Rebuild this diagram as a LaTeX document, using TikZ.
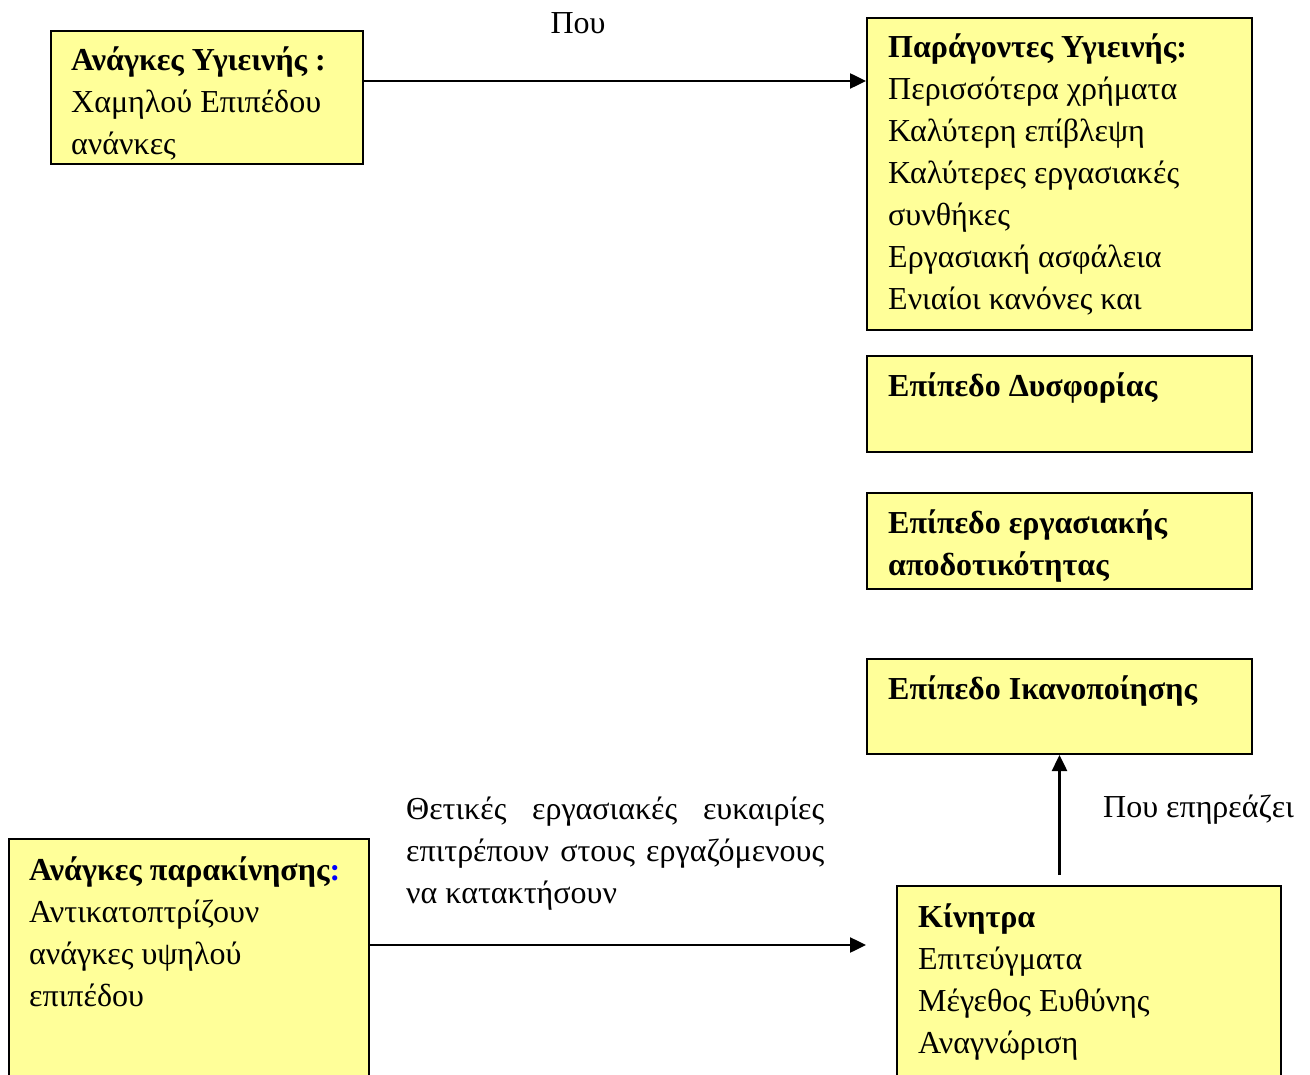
\documentclass[tikz,border=0pt]{standalone}
\usepackage{fontspec}
\setmainfont{Liberation Serif}
\usepackage{xcolor}
\usetikzlibrary{arrows.meta,positioning}
\definecolor{hfill}{HTML}{FFFF99}
\definecolor{hblue}{HTML}{0000FF}
\tikzset{
  box/.style={draw, line width=2pt, fill=hfill, anchor=north west, inner sep=0pt},
  boxtext/.style={anchor=north west, inner sep=0pt, align=left,
    font=\fontsize{32}{42}\selectfont},
  lbl/.style={inner sep=0pt, font=\fontsize{32}{42}\selectfont},
  conn/.style={line width=2.5pt, -{Triangle[length=16pt,width=15pt]}},
}

\begin{document}
\begin{tikzpicture}[x=1pt, y=-1pt]
\useasboundingbox (0,0) rectangle (1310,1075);
\clip (0,0) rectangle (1310,1075);
% ---- hygiene needs and factors ----
\node[box, minimum width=312pt, minimum height=133pt] (hyg) at (50,30) {};
\node[boxtext] (hygT) at ([shift={(21,10.6)}]hyg.north west)
   {\strut\textbf{Ανάγκες Υγιεινής :}\\Χαμηλού Επιπέδου\\ανάνκες};
\node[box, minimum width=385pt, minimum height=312pt] (fact) at (866,17) {};
\node[boxtext] (factT) at ([shift={(22,10.6)}]fact.north west)
   {\strut\textbf{Παράγοντες Υγιεινής:}\\Περισσότερα χρήματα\\Καλύτερη επίβλεψη\\
    Καλύτερες εργασιακές\\συνθήκες\\Εργασιακή ασφάλεια\\Ενιαίοι κανόνες και};
% ---- levels ----
\node[box, minimum width=385pt, minimum height=96pt] (dys) at (866,355) {};
\node[boxtext] (dysT) at ([shift={(22,11.6)}]dys.north west)
   {\strut\textbf{Επίπεδο Δυσφορίας}};
\node[box, minimum width=385pt, minimum height=96pt] (perf) at (866,492) {};
\node[boxtext] (perfT) at ([shift={(22,11.6)}]perf.north west)
   {\strut\textbf{Επίπεδο εργασιακής}\\\textbf{αποδοτικότητας}};
\node[box, minimum width=385pt, minimum height=95pt] (sat) at (866,658) {};
\node[boxtext] (satT) at ([shift={(22,11.6)}]sat.north west)
   {\strut\textbf{Επίπεδο Ικανοποίησης}};
% ---- motivation needs and incentives ----
\node[box, minimum width=360pt, minimum height=260pt] (mot) at (8,838) {};
\node[boxtext] (motT) at ([shift={(21,12.6)}]mot.north west)
   {\strut\textbf{Ανάγκες παρακίνησης\textcolor{hblue}{:}}\\Αντικατοπτρίζουν\\
    ανάγκες υψηλού\\επιπέδου};
\node[box, minimum width=384pt, minimum height=220pt] (kin) at (896,885) {};
\node[boxtext] (kinT) at ([shift={(22,12.6)}]kin.north west)
   {\strut\textbf{Κίνητρα}\\Επιτεύγματα\\Μέγεθος Ευθύνης\\Αναγνώριση};
% ---- connectors ----
\coordinate (a1) at ([yshift=-51pt]hyg.north east);
\draw[conn] (a1) -- (a1 -| fact.west);
\node[lbl, anchor=base] (pou) at (578,34) {Που};
\coordinate (a2) at ([yshift=-107pt]mot.north east);
\coordinate (a2end) at (866,945);
\draw[conn] (a2) -- (a2end);
\node[lbl, anchor=north west, text width=418pt, align=justify] (opp) at (406,789.4)
   {\strut Θετικές εργασιακές ευκαιρίες\linebreak επιτρέπουν στους εργαζόμενους\linebreak να κατακτήσουν};
\coordinate (v1) at ([yshift=10pt]kin.north -| sat.south);
\draw[conn] (v1) -- (sat.south);
\node[lbl, anchor=base west] (aff) at (1103,817) {Που επηρεάζει};
\end{tikzpicture}
\end{document}
